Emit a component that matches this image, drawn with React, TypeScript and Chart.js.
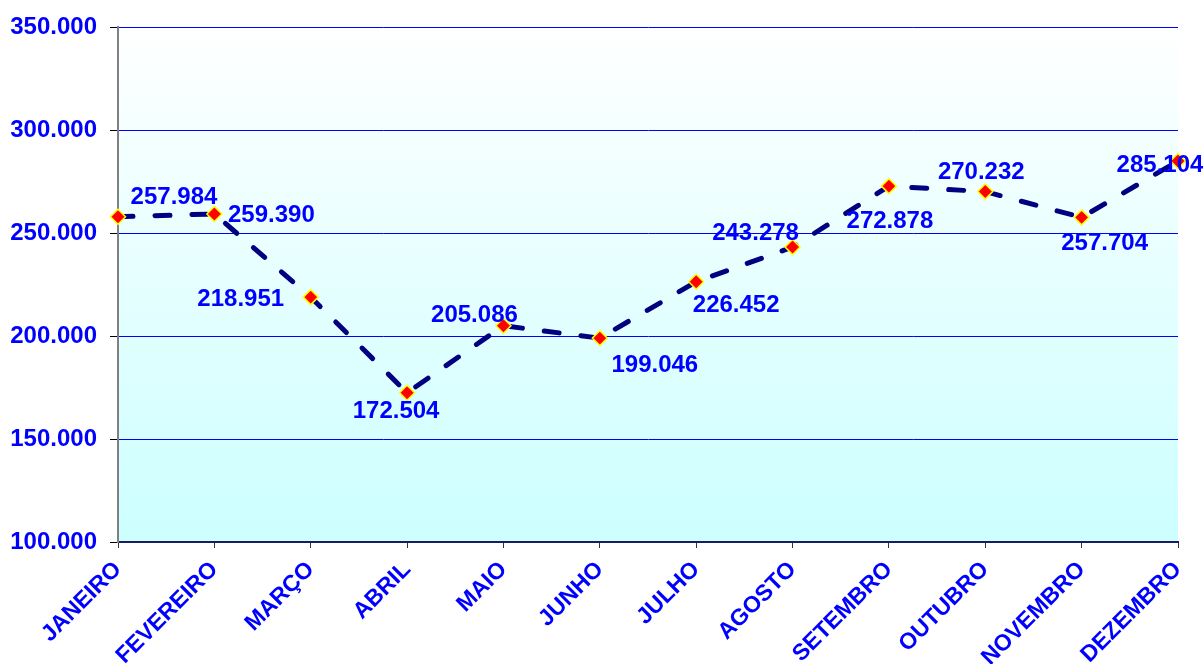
import React, { useEffect, useRef } from "react";
import { Chart, registerables } from "chart.js";

Chart.register(...registerables);

const months = [
  "JANEIRO", "FEVEREIRO", "MARÇO", "ABRIL", "MAIO", "JUNHO",
  "JULHO", "AGOSTO", "SETEMBRO", "OUTUBRO", "NOVEMBRO", "DEZEMBRO",
];
const values = [
  257984, 259390, 218951, 172504, 205086, 199046,
  226452, 243278, 272878, 270232, 257704, 285104,
];
const yTicks = [100000, 150000, 200000, 250000, 300000, 350000];

// label offsets (style only): centre of the value text relative to the point
const labelDx = [56, 57, -70, -11, -29, 55, 40, -37, 1, -4, 23, -18];
const labelDy = [-19, 1, 2, 19, -10, 27, 24, -14, 35, -19, 26, 4];

const fmt = (v: number) =>
  Math.round(v).toString().replace(/\B(?=(\d{3})+(?!\d))/g, ".");

const FONT = "'Liberation Sans', Arial, sans-serif";

const bgPlugin = {
  id: "plotBg",
  beforeDraw(chart: any) {
    const { ctx, chartArea } = chart;
    if (!chartArea) return;
    const g = ctx.createLinearGradient(0, chartArea.top, 0, chartArea.bottom);
    g.addColorStop(0, "#ffffff");
    g.addColorStop(1, "#ccffff");
    ctx.save();
    ctx.fillStyle = g;
    ctx.fillRect(chartArea.left, chartArea.top, chartArea.right - chartArea.left, chartArea.bottom - chartArea.top);
    ctx.restore();
  },
};

const labelPlugin = {
  id: "valueLabels",
  afterDatasetsDraw(chart: any) {
    const { ctx } = chart;
    const meta = chart.getDatasetMeta(0);
    ctx.save();
    ctx.font = `bold 24px ${FONT}`;
    ctx.fillStyle = "#0000ff";
    ctx.textAlign = "center";
    ctx.textBaseline = "middle";
    meta.data.forEach((pt: any, i: number) => {
      ctx.fillText(fmt(values[i]), pt.x + labelDx[i], pt.y + labelDy[i]);
    });
    ctx.restore();
  },
};

export default function App() {
  const ref = useRef<HTMLCanvasElement | null>(null);
  useEffect(() => {
    document.body.style.margin = "0";
    const chart = new Chart(ref.current as HTMLCanvasElement, {
      type: "line",
      data: {
        labels: months,
        datasets: [
          {
            data: values,
            borderColor: "#000080",
            borderWidth: 5,
            borderDash: [15, 22],
            borderCapStyle: "round",
            tension: 0,
            pointStyle: "rectRot",
            pointRadius: 7.5,
            pointBackgroundColor: "#ff0000",
            pointBorderColor: "#ffff00",
            pointBorderWidth: 1.5,
            clip: false as any,
          },
        ],
      },
      options: {
        animation: false,
        responsive: true,
        maintainAspectRatio: false,
        layout: { padding: { top: 26, right: 25, left: 0, bottom: 0 } },
        plugins: { legend: { display: false }, tooltip: { enabled: false } },
        scales: {
          x: {
            offset: false,
            grid: {
              display: true,
              drawOnChartArea: false,
              drawTicks: true,
              tickLength: 6,
              tickColor: "#333333",
            },
            border: { color: "#1a1a66", width: 2 },
            ticks: {
              color: "#0000ff",
              font: { family: FONT, size: 23, weight: "bold" },
              minRotation: 45,
              maxRotation: 45,
              padding: 8,
              autoSkip: false,
            },
            afterFit: (s: any) => {
              s.height = 122;
              s.paddingRight = 0;
              s.paddingLeft = 0;
            },
          },
          y: {
            min: 100000,
            max: 350000,
            afterBuildTicks: (s: any) => {
              s.ticks = yTicks.map((v) => ({ value: v }));
            },
            grid: {
              color: "#0000ff",
              lineWidth: 1,
              drawTicks: true,
              tickLength: 8,
              tickColor: "#000000",
            },
            border: { color: "#808080", width: 2 },
            ticks: {
              color: "#0000ff",
              font: { family: FONT, size: 24, weight: "bold" },
              padding: 13,
              callback: (v: any) => fmt(Number(v)),
            },
            afterFit: (s: any) => {
              s.width = 118;
            },
          },
        },
      },
      plugins: [bgPlugin, labelPlugin],
    });
    return () => chart.destroy();
  }, []);
  return (
    <div style={{ position: "fixed", left: 0, top: 0, width: 1203, height: 664, background: "#ffffff" }}>
      <canvas ref={ref} />
    </div>
  );
}
